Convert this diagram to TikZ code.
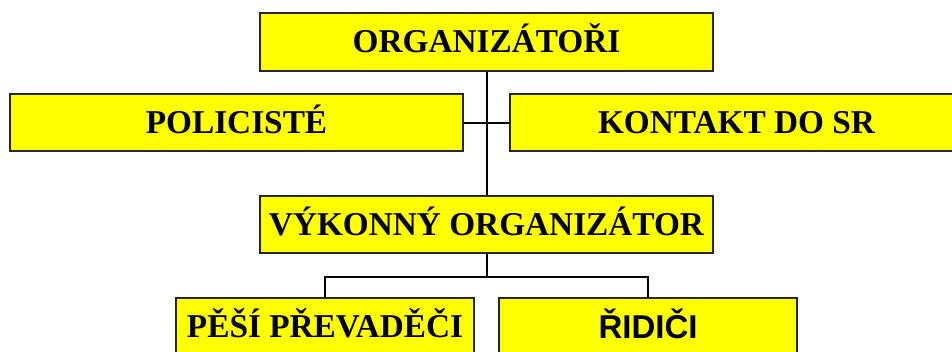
\documentclass[tikz,border=0pt]{standalone}
\usepackage{fontspec}
\setmainfont{Liberation Serif}
\newfontfamily\arialf{Liberation Sans}
\definecolor{boxyellow}{HTML}{FFFF00}
\tikzset{
  orgbox/.style={draw=black!85, line width=1.8pt, fill=boxyellow, rectangle,
    inner sep=0pt, minimum width=453pt, minimum height=57pt,
    text height=21.5pt, text depth=0pt,
    font=\fontsize{33.3}{40}\selectfont\bfseries},
  smallbox/.style={orgbox, minimum width=298pt},
  link/.style={draw=black, line width=2pt}
}
\begin{document}
\begin{tikzpicture}[x=1pt,y=-1pt]
\useasboundingbox (0,0) rectangle (952,351);
\clip (0,0) rectangle (952,351);
\node[orgbox, minimum height=58pt] (org) at (486.5,42) {ORGANIZÁTOŘI};
\node[orgbox] (pol) at (236.5,122.5) {POLICISTÉ};
\node[orgbox] (kon) at (736.5,122.5) {KONTAKT DO SR};
\node[orgbox] (vyk) at (486.5,224.5) {VÝKONNÝ ORGANIZÁTOR};
\node[smallbox] (pesi) at (325,326.5) {PĚŠÍ PŘEVADĚČI};
\node[smallbox, font=\fontsize{33}{40}\selectfont\arialf\bfseries, text height=23pt] (rid) at (648,326.5) {ŘIDIČI};
\draw[link] (org.south) -- (vyk.north);
\draw[link] (pol.east) -- (kon.west);
\draw[link] (vyk.south) -- ++(0,23) coordinate (j);
\draw[link] (pesi.north) |- (j) -| (rid.north);
\end{tikzpicture}
\end{document}
